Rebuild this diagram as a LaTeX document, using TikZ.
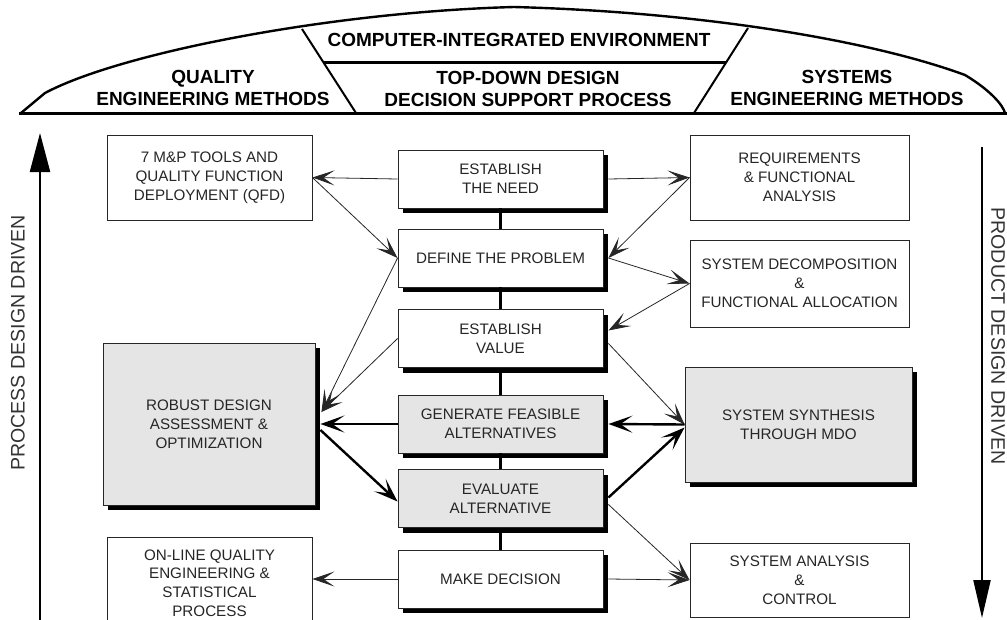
\documentclass[tikz,border=0pt]{standalone}
\usepackage{fontspec}
\setmainfont{Liberation Sans}
\usetikzlibrary{arrows.meta,shadows}
\newcommand{\boxfont}{\fontsize{15.2}{18.8}\selectfont}
\newcommand{\titlefont}{\bfseries\fontsize{19}{22}\selectfont}
\newcommand{\sidefont}{\fontsize{19.6}{22}\selectfont}
\tikzset{
	stage/.style={draw=black!85,line width=0.9pt,fill=white,minimum width=205pt,minimum height=58pt,inner sep=0pt,align=center,font=\boxfont,text=black!85,drop shadow={shadow xshift=5pt,shadow yshift=-5pt,fill=black,opacity=1}},
	shaded/.style={fill=black!10},
	method/.style={draw=black!85,line width=0.9pt,fill=white,minimum width=205pt,minimum height=85pt,inner sep=0pt,align=center,font=\boxfont,text=black!85},
	link/.style={draw=black!85,line width=0.8pt,-{Stealth[length=22pt,width=15pt,inset=11pt]}},
	biglink/.style={draw=black,line width=2.4pt,-{Stealth[length=24pt,width=17pt,inset=12pt]}},
	spine/.style={line width=3pt},
	title/.style={font=\titlefont,align=center}
}
\begin{document}
\begin{tikzpicture}[x=1pt,y=-1pt]
	\useasboundingbox (0,0) rectangle (1007,619);
	\clip (0,0) rectangle (1007,619);
	\draw[line width=2.4pt,line join=round] (21,113) -- (45,93) .. controls (120,53) and (330,12) .. (514,7) .. controls (700,12) and (870,40) .. (965,75) .. controls (990,90) and (1003,105) .. (1005,113);
	\draw[line width=3pt] (19,113) -- (1007,113);
	\draw[line width=2pt] (302,29) -- (356,113);
	\draw[line width=2pt] (748,28) -- (694,113);
	\draw[line width=3pt] (323,62) -- (726,62);
	\node[title] (cie) at (519,40) {COMPUTER-INTEGRATED ENVIRONMENT};
	\node[title] (qem) at (213,88) {QUALITY\\ENGINEERING METHODS};
	\node[title] (tdd) at (528,89) {TOP-DOWN DESIGN\\DECISION SUPPORT PROCESS};
	\node[title] (sem) at (847,88) {SYSTEMS\\ENGINEERING METHODS};

	\node[stage] (need) at (500.5,179) {ESTABLISH\\THE NEED};
	\node[stage] (define) at (500.5,258) {DEFINE THE PROBLEM};
	\node[stage] (value) at (500.5,338.5) {ESTABLISH\\VALUE};
	\node[stage,shaded] (generate) at (500.5,424) {GENERATE FEASIBLE\\ALTERNATIVES};
	\node[stage,shaded] (evaluate) at (500.5,498.5) {EVALUATE\\ALTERNATIVE};
	\node[stage] (decision) at (500.5,579) {MAKE DECISION};
	\foreach \a/\b in {need/define,define/value,value/generate,generate/evaluate,evaluate/decision}
		\draw[spine] (\a.south) -- (\b.north);

	\node[method] (qfd) at (209.5,177.5) {7 M\&P TOOLS AND\\QUALITY FUNCTION\\DEPLOYMENT (QFD)};
	\node[stage,shaded,minimum width=212pt,minimum height=162pt] (robust) at (209,424) {ROBUST DESIGN\\ASSESSMENT \&\\OPTIMIZATION};
	\node[method,minimum height=92pt] (online) at (209.5,583) {ON-LINE QUALITY\\ENGINEERING \&\\STATISTICAL\\PROCESS};

	\node[method,minimum width=219pt] (req) at (799.5,177.5) {REQUIREMENTS\\\& FUNCTIONAL\\ANALYSIS};
	\node[method,minimum width=219pt,minimum height=87pt] (decomp) at (799.5,283.5) {SYSTEM DECOMPOSITION\\\&\\FUNCTIONAL ALLOCATION};
	\node[stage,shaded,minimum width=227pt,minimum height=115pt] (synth) at (798.5,424.5) {SYSTEM SYNTHESIS\\THROUGH MDO};
	\node[method,minimum width=219pt,minimum height=74pt] (analysis) at (799.5,580) {SYSTEM ANALYSIS\\\&\\CONTROL};

	\draw[link] (need.west) -- (qfd.east);
	\draw[link] ([xshift=5pt]need.east) -- (req.west);
	\draw[link] (qfd.east) -- (define.west);
	\draw[link] (req.west) -- ([xshift=5pt]define.east);
	\draw[link] ([xshift=5pt]define.east) -- (decomp.west);
	\draw[link] (decomp.west) -- ([xshift=5pt,yshift=8pt]value.east);
	\draw[link] ([xshift=5pt,yshift=-5pt]value.east) -- (synth.west);
	\draw[link] (define.west) -- ([xshift=6pt,yshift=12pt]robust.east);
	\draw[link] (value.west) -- ([xshift=6pt,yshift=12pt]robust.east);
	\draw[biglink] (generate.west) -- ([xshift=5pt]robust.east);
	\draw[biglink] ([xshift=5pt,yshift=-6pt]robust.east) -- ([yshift=-3pt]evaluate.west);
	\draw[biglink] (synth.west) -- ([xshift=5pt]generate.east);
	\draw[biglink] ([xshift=5pt,yshift=1pt]evaluate.east) -- ([yshift=-3pt]synth.west);
	\draw[link] ([xshift=5pt,yshift=-6pt]evaluate.east) -- (analysis.west);
	\draw[link] ([xshift=5pt]decision.east) -- (analysis.west);
	\draw[link] (decision.west) -- (decision.west -| online.east);

	\coordinate (pbase) at (40,640);
	\coordinate (ptip) at (40,133);
	\draw[line width=2.2pt,-{Triangle[length=39pt,width=20pt]}] (pbase) -- (ptip);
	\node[rotate=90,font=\sidefont,text=black!80] (process) at (18,343) {PROCESS DESIGN DRIVEN};
	\coordinate (qtop) at (982,147);
	\coordinate (qtip) at (982,618);
	\draw[line width=2.2pt,-{Triangle[length=38pt,width=17pt]}] (qtop) -- (qtip);
	\node[rotate=-90,font=\sidefont,text=black!80] (product) at (998,336) {PRODUCT DESIGN DRIVEN};
\end{tikzpicture}
\end{document}
